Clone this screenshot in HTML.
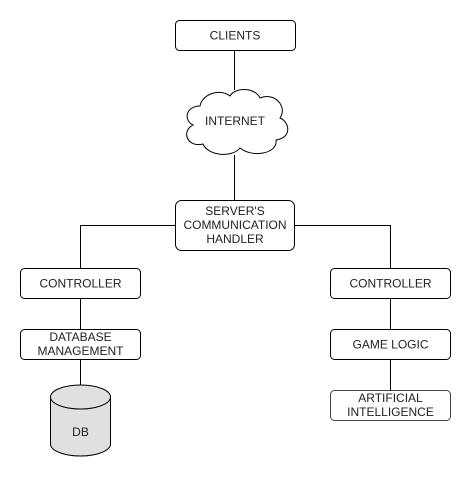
<!DOCTYPE html>
<html><head><meta charset="utf-8"><style>
html,body{margin:0;padding:0;background:#fff;}
svg{display:block;}
text{font-family:"Liberation Sans",Arial,sans-serif;font-size:12px;fill:#222;text-anchor:middle;}
</style></head><body>
<svg width="472" height="477" viewBox="0 0 472 477" xmlns="http://www.w3.org/2000/svg">
<g stroke="#000" stroke-width="1" fill="none">
<line x1="234.5" y1="50" x2="234.5" y2="90"/>
<line x1="234.5" y1="155" x2="234.5" y2="201"/>
<polyline points="175,225.5 80.5,225.5 80.5,269"/>
<polyline points="295,225.5 390.5,225.5 390.5,269"/>
<line x1="80.5" y1="298" x2="80.5" y2="330"/>
<line x1="80.5" y1="359" x2="80.5" y2="385"/>
<line x1="390.5" y1="298" x2="390.5" y2="330"/>
<line x1="390.5" y1="359" x2="390.5" y2="391"/>
</g>
<g stroke="#000" stroke-width="1" fill="#fff">
<rect x="175.5" y="20.5" width="120" height="30" rx="4"/>
<rect x="175.5" y="200.5" width="119" height="50" rx="6"/>
<rect x="20.5" y="268.5" width="120" height="30" rx="4"/>
<rect x="20.5" y="329.5" width="120" height="30" rx="4"/>
<rect x="330.5" y="268.5" width="120" height="30" rx="4"/>
<rect x="330.5" y="329.5" width="120" height="30" rx="4"/>
<rect x="330.5" y="390.5" width="120" height="30" rx="4" stroke="#444"/>
<path d="M200,106 C186,106 183,120 193,125 C181,131 187,148 203,144 C208,156 232,158 240,148 C252,158 278,154 276,140 C292,138 290,122 280,118 C288,106 274,92 260,98 C254,86 234,88 230,96 C220,88 202,94 200,106 Z"/>
<path d="M50.5,397 A30,12 0 0 1 110.5,397 L110.5,444 A30,12 0 0 1 50.5,444 Z" fill="#e0e0e0"/>
<path d="M50.5,397 A30,12 0 0 0 110.5,397" fill="none"/>
</g>
<text x="235" y="39.5">CLIENTS</text>
<text x="235" y="125">INTERNET</text>
<text x="235" y="215">SERVER'S</text>
<text x="235" y="229">COMMUNICATION</text>
<text x="235" y="243">HANDLER</text>
<text x="80.5" y="287.5">CONTROLLER</text>
<text x="80.5" y="341">DATABASE</text>
<text x="80.5" y="355">MANAGEMENT</text>
<text x="80.5" y="436">DB</text>
<text x="390.5" y="287.5">CONTROLLER</text>
<text x="390.5" y="348.5">GAME LOGIC</text>
<text x="390.5" y="402">ARTIFICIAL</text>
<text x="390.5" y="416">INTELLIGENCE</text>
</svg>
</body></html>
